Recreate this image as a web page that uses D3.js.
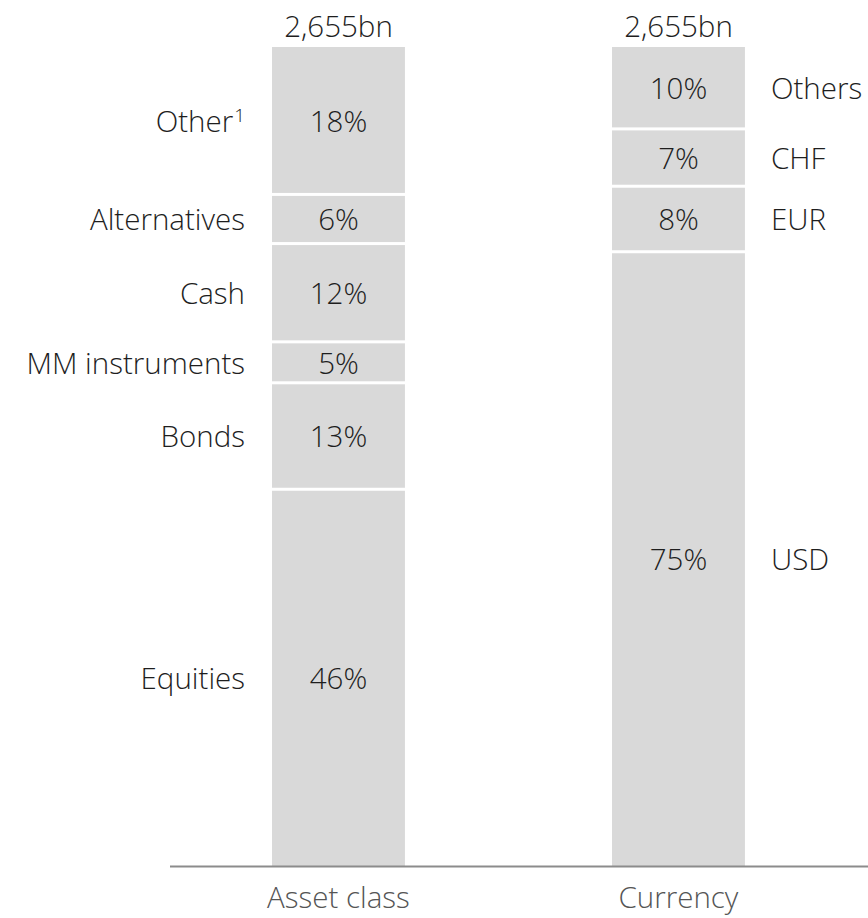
<!DOCTYPE html>
<html>
<head>
<meta charset="utf-8">
<script src="https://cdn.jsdelivr.net/npm/d3@7"></script>
<style>
  body { margin: 0; background: #fff; }
  svg text { font-family: "Open Sans", "Noto Sans", sans-serif; font-weight: 300; fill: #1e1e1e; }
</style>
</head>
<body>
<svg id="chart" width="868" height="918"></svg>
<script>
// data (percent of total, bottom to top)
const groups = ["Asset class", "Currency"];
const totals = ["2,655bn", "2,655bn"];

const assetNames = ["Equities", "Bonds", "MM instruments", "Cash", "Alternatives", "Other"];
const assetValues = [46, 13, 5, 12, 6, 18];

const currencyNames = ["USD", "EUR", "CHF", "Others"];
const currencyValues = [75, 8, 7, 10];

const width = 868, height = 918;
const margin = {top: 47, bottom: 52, left: 170, right: 0};
const baseline = height - margin.bottom;

const svg = d3.select("#chart");

const xScale = d3.scaleBand()
  .domain(groups)
  .range([margin.left, margin.left + 340 * 1.991])
  .paddingInner(0.609)
  .paddingOuter(0.3);

const yScale = d3.scaleLinear()
  .domain([0, 100])
  .range([baseline, margin.top]);

// build segments for a bar
function segments(names, values) {
  const ends = d3.cumsum(values);
  return names.map((n, i) => ({name: n, value: values[i], y0: ends[i] - values[i], y1: ends[i]}));
}

const bars = [
  {group: groups[0], total: totals[0], segs: segments(assetNames, assetValues), side: "left"},
  {group: groups[1], total: totals[1], segs: segments(currencyNames, currencyValues), side: "right"}
];

const gap = 3;
const fontSize = 29.5;

bars.forEach(bar => {
  const x = xScale(bar.group);
  const bw = xScale.bandwidth();
  const cx = x + bw / 2;
  const g = svg.append("g");

  g.selectAll("rect").data(bar.segs).enter().append("rect")
    .attr("x", x)
    .attr("width", bw)
    .attr("y", d => yScale(d.y1) + (d.y1 < 100 ? gap / 2 : 0))
    .attr("height", d => yScale(d.y0) - yScale(d.y1) - (d.y1 < 100 ? gap / 2 : 0) - (d.y0 > 0 ? gap / 2 : 0))
    .attr("fill", "#d9d9d9");

  // percentages inside
  g.selectAll(".pct").data(bar.segs).enter().append("text")
    .attr("class", "pct")
    .attr("x", cx)
    .attr("y", d => yScale((d.y0 + d.y1) / 2) + 1)
    .attr("dy", "0.35em")
    .attr("text-anchor", "middle")
    .attr("font-size", fontSize)
    .text(d => d.value + "%");

  // category labels beside the bar
  const lab = g.selectAll(".lab").data(bar.segs).enter().append("text")
    .attr("class", "lab")
    .attr("x", bar.side == "left" ? x - 27 : x + bw + 26)
    .attr("y", d => yScale((d.y0 + d.y1) / 2) + 1)
    .attr("dy", "0.35em")
    .attr("text-anchor", bar.side == "left" ? "end" : "start")
    .attr("font-size", fontSize)
    .text(d => d.name);
  lab.filter(d => d.name == "Other").append("tspan")
    .attr("font-size", 19)
    .attr("dy", "-0.55em")
    .attr("dx", 1)
    .text("1");

  // total on top
  g.append("text")
    .attr("x", cx)
    .attr("y", margin.top - 10)
    .attr("text-anchor", "middle")
    .attr("font-size", fontSize)
    .text(bar.total);

  // group label under axis
  g.append("text")
    .attr("x", cx)
    .attr("y", baseline + 42)
    .attr("text-anchor", "middle")
    .attr("font-size", fontSize)
    .style("fill", "#555")
    .text(bar.group);
});

// baseline
svg.append("line")
  .attr("x1", margin.left)
  .attr("x2", width)
  .attr("y1", baseline + 0.5)
  .attr("y2", baseline + 0.5)
  .attr("stroke", "#8c8c8c")
  .attr("stroke-width", 2);
</script>
</body>
</html>
